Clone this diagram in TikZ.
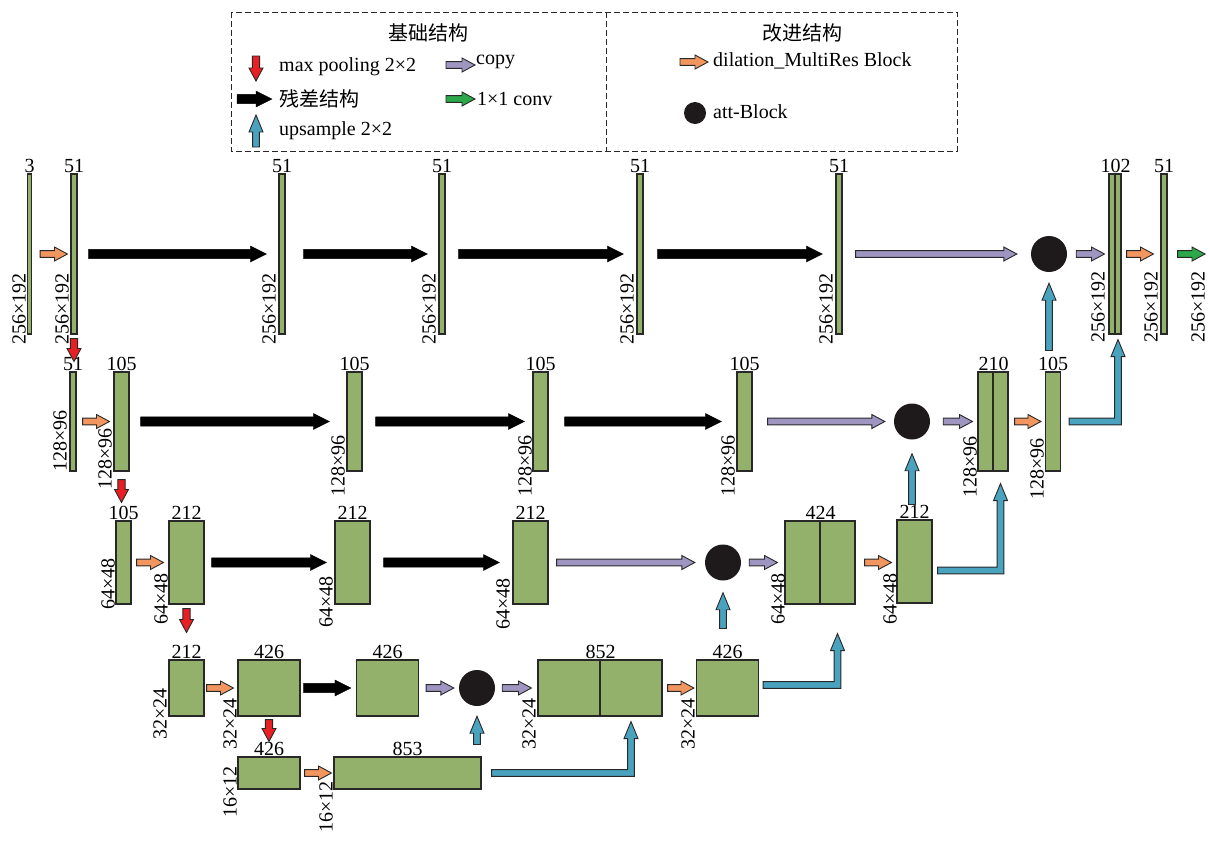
\documentclass[tikz,border=0pt]{standalone}
\usepackage{fontspec}
\setmainfont{Liberation Serif}
\newfontfamily\cjk{Noto Sans CJK SC}
\usetikzlibrary{calc}

\definecolor{blkgreen}{RGB}{148,177,108}
\definecolor{outln}{RGB}{40,40,40}
\definecolor{arrorange}{RGB}{242,150,95}
\definecolor{arrpurple}{RGB}{158,150,192}
\definecolor{arrteal}{RGB}{74,163,190}
\definecolor{arrgreen}{RGB}{44,168,74}
\definecolor{arrred}{RGB}{232,32,36}
\definecolor{attblack}{RGB}{30,26,27}

\tikzset{
  arr dims/.code args={#1/#2/#3}{\def\aw{#1}\def\ah{#2}\def\al{#3}},
  blk/.style 2 args={draw=outln, fill=blkgreen, line width=1.1pt, inner sep=0pt,
    minimum width=#1, minimum height=#2},
  chlbl/.style={inner sep=0.5pt},
  dimlbl/.style={rotate=90, anchor=south west, inner sep=0pt},
  legtxt/.style={anchor=west, inner sep=0pt},
  att/.style={circle, fill=attblack, inner sep=0pt, minimum size=36pt},
  resarr/.style={fill=black, draw=black, line width=0.4pt, arr dims=4.6pt/8pt/16pt},
  dilarr/.style={fill=arrorange, draw=outln, line width=0.9pt, arr dims=3.4pt/7pt/13pt},
  copyarr/.style={fill=arrpurple, draw=outln, line width=0.9pt, arr dims=3.4pt/7pt/13pt},
  convarr/.style={fill=arrgreen, draw=outln, line width=0.9pt, arr dims=3.4pt/7pt/13pt},
  poolarr/.style={fill=arrred, draw=outln, line width=0.9pt, arr dims=3.6pt/7pt/13pt},
  uparr/.style={fill=arrteal, draw=outln, line width=0.9pt, arr dims=3.4pt/7pt/17pt},
  legbox/.style={draw=outln, line width=1pt, dash pattern=on 6pt off 3pt}
}

% straight block arrow, #2 tail, #3 tip
\newcommand{\blockarrow}[3][]{%
  \begin{scope}[#1]
    \coordinate (ba-s) at (#2);
    \coordinate (ba-t) at (#3);
    \coordinate (ba-h) at ($(ba-t)!\al!(ba-s)$);
    \path[fill,draw] ($(ba-s)!\aw!90:(ba-t)$) -- ($(ba-h)!\aw!90:(ba-t)$) -- ($(ba-h)!\ah!90:(ba-t)$)
      -- (ba-t) -- ($(ba-h)!\ah!-90:(ba-t)$) -- ($(ba-h)!\aw!-90:(ba-t)$) -- ($(ba-s)!\aw!-90:(ba-t)$) -- cycle;
  \end{scope}}
% block arrow going right, then up to the tip
\newcommand{\elbowarrow}[3][]{%
  \begin{scope}[#1]
    \path[fill,draw] let \p1=(#2), \p2=(#3) in
      (\x1,\y1+\aw) -- (\x2-\aw,\y1+\aw) -- (\x2-\aw,\y2-\al) -- (\x2-\ah,\y2-\al) -- (\x2,\y2)
      -- (\x2+\ah,\y2-\al) -- (\x2+\aw,\y2-\al) -- (\x2+\aw,\y1-\aw) -- (\x1,\y1-\aw) -- cycle;
  \end{scope}}

\begin{document}
\begin{tikzpicture}[x=1pt,y=-1pt,font=\fontsize{20}{24}\selectfont]
  \useasboundingbox (0,0) rectangle (1210,841);

  % legend
  \draw[legbox] (231,12) rectangle (957,151);
  \draw[legbox] (606,12) -- (606,151);
  \node (lgt1) at (428,33) {\cjk 基础结构};
  \node (lgt2) at (802,33) {\cjk 改进结构};
  \coordinate (lgp1) at (256,56);  \coordinate (lgp2) at (256,81);
  \coordinate (lgr1) at (237,99);  \coordinate (lgr2) at (272,99);
  \coordinate (lgu1) at (256,147); \coordinate (lgu2) at (256,115);
  \coordinate (lgc1) at (446,65);  \coordinate (lgc2) at (475,65);
  \coordinate (lgv1) at (446,99);  \coordinate (lgv2) at (475,99);
  \coordinate (lgd1) at (680,62);  \coordinate (lgd2) at (708,62);
  \blockarrow[poolarr]{lgp1}{lgp2}
  \blockarrow[resarr]{lgr1}{lgr2}
  \blockarrow[uparr]{lgu1}{lgu2}
  \blockarrow[copyarr]{lgc1}{lgc2}
  \blockarrow[convarr]{lgv1}{lgv2}
  \blockarrow[dilarr]{lgd1}{lgd2}
  \node[att, minimum size=22pt] (lga) at (695,113) {};
  \node[legtxt] (lgpt) at (279,67) {max pooling 2×2};
  \node[legtxt] (lgrt) at (279,99) {\cjk 残差结构};
  \node[legtxt] (lgut) at (279,131) {upsample 2×2};
  \node[legtxt] (lgct) at (476,62) {copy};
  \node[legtxt] (lgvt) at (477,99) {1×1 conv};
  \node[legtxt] (lgdt) at (713,61) {dilation\_MultiRes Block};
  \node[legtxt] (lgat) at (713,112) {att-Block};

  % row 1: 256x192
  \node[blk={4pt}{160pt}, label={[chlbl]above:3}] (r1a) at (29.5,254) {};
  \node[blk={6pt}{160pt}, label={[chlbl]above:51}] (r1b) at (74,254) {};
  \node[blk={6pt}{160pt}, label={[chlbl]above:51}] (r1c) at (282,254) {};
  \node[blk={6pt}{160pt}, label={[chlbl]above:51}] (r1d) at (442,254) {};
  \node[blk={6pt}{160pt}, label={[chlbl]above:51}] (r1e) at (640,254) {};
  \node[blk={6pt}{160pt}, label={[chlbl]above:51}] (r1f) at (839,254) {};
  \node[att] (t1) at (1049,254) {};
  \node[blk={6pt}{160pt}] (r1gl) at (1112,254) {};
  \node[blk={6pt}{160pt}] (r1gr) at (1118,254) {};
  \node[chlbl, anchor=south] (l1g) at (r1gl.north east) {102};
  \node[blk={6pt}{160pt}, label={[chlbl]above:51}] (r1h) at (1164,254) {};
  \coordinate (out) at (1205,254);

  % row 2: 128x96
  \node[blk={6pt}{99pt}, label={[chlbl]above:51}] (r2a) at (73,421.5) {};
  \node[blk={15pt}{99pt}, label={[chlbl]above:105}] (r2b) at (121.5,421.5) {};
  \node[blk={15pt}{99pt}, label={[chlbl]above:105}] (r2c) at (354.5,421.5) {};
  \node[blk={15pt}{99pt}, label={[chlbl]above:105}] (r2d) at (540.5,421.5) {};
  \node[blk={15pt}{99pt}, label={[chlbl]above:105}] (r2e) at (744.5,421.5) {};
  \node[att] (t2) at (912,421.5) {};
  \node[blk={15pt}{99pt}] (r2fl) at (985.5,421.5) {};
  \node[blk={15pt}{99pt}] (r2fr) at (1000.5,421.5) {};
  \node[chlbl, anchor=south] (l2f) at (r2fl.north east) {210};
  \node[blk={15pt}{99pt}, label={[chlbl]above:105}] (r2g) at (1053,421.5) {};

  % row 3: 64x48
  \node[blk={15pt}{83pt}, label={[chlbl]above:105}] (r3a) at (123.5,562.5) {};
  \node[blk={35pt}{83pt}, label={[chlbl]above:212}] (r3b) at (186.5,562.5) {};
  \node[blk={35pt}{83pt}, label={[chlbl]above:212}] (r3c) at (352.5,562.5) {};
  \node[blk={35pt}{83pt}, label={[chlbl]above:212}] (r3d) at (530.5,562.5) {};
  \node[att] (t3) at (723,562.5) {};
  \node[blk={35pt}{83pt}] (r3el) at (802.5,562.5) {};
  \node[blk={35pt}{83pt}] (r3er) at (837.5,562.5) {};
  \node[chlbl, anchor=south] (l3e) at (r3el.north east) {424};
  \node[blk={35pt}{83pt}, label={[chlbl]above:212}] (r3f) at (914.5,561.5) {};

  % row 4: 32x24
  \node[blk={35pt}{56pt}, label={[chlbl]above:212}] (r4a) at (186.5,688) {};
  \node[blk={62pt}{56pt}, label={[chlbl]above:426}] (r4b) at (269,688) {};
  \node[blk={62pt}{56pt}, label={[chlbl]above:426}] (r4c) at (387.5,688) {};
  \node[att] (t4) at (477,688) {};
  \node[blk={62pt}{56pt}] (r4dl) at (569,688) {};
  \node[blk={62pt}{56pt}] (r4dr) at (631,688) {};
  \node[chlbl, anchor=south] (l4d) at (r4dl.north east) {852};
  \node[blk={62pt}{56pt}, label={[chlbl]above:426}] (r4e) at (727.5,688) {};

  % row 5: 16x12
  \node[blk={62pt}{32pt}, label={[chlbl]above:426}] (r5a) at (269,773) {};
  \node[blk={147pt}{32pt}, label={[chlbl]above:853}] (r5b) at (407.5,773) {};

  % sizes
  \foreach \x/\y [count=\i] in {26/345, 69/345, 276/345, 436/345, 634/345, 833/345, 1105/343, 1158/343, 1205/343}
    \node[dimlbl] (s1-\i) at (\x,\y) {256×192};
  \foreach \x/\y [count=\i] in {67/472, 112/490, 345/497, 532/497, 735/497, 977/498, 1044/500}
    \node[dimlbl] (s2-\i) at (\x,\y) {128×96};
  \foreach \x/\y [count=\i] in {115/610, 168/625, 333/628, 510/630, 785/625, 897/625}
    \node[dimlbl] (s3-\i) at (\x,\y) {64×48};
  \foreach \x/\y [count=\i] in {167/740, 237/750, 536/750, 695/750}
    \node[dimlbl] (s4-\i) at (\x,\y) {32×24};
  \foreach \x/\y [count=\i] in {237/818, 333/833}
    \node[dimlbl] (s5-\i) at (\x,\y) {16×12};

  % dilation_MultiRes
  \blockarrow[dilarr]{[xshift=8pt]r1a.east}{[xshift=-3pt]r1b.west}
  \blockarrow[dilarr]{[xshift=5pt]r1gr.east}{[xshift=-7pt]r1h.west}
  \blockarrow[dilarr]{[xshift=6pt]r2a.east}{[xshift=-4pt]r2b.west}
  \blockarrow[dilarr]{[xshift=6pt]r2fr.east}{[xshift=-4pt]r2g.west}
  \blockarrow[dilarr]{[xshift=5pt]r3a.east}{[xshift=-5pt]r3b.west}
  \blockarrow[dilarr]{[xshift=9pt]r3er.east}{[xshift=-5pt]r3er.east -| r3f.west}
  \blockarrow[dilarr]{[xshift=2pt]r4a.east}{[xshift=-4pt]r4b.west}
  \blockarrow[dilarr]{[xshift=5pt]r4dr.east}{[xshift=-2pt]r4e.west}
  \blockarrow[dilarr]{[xshift=4pt]r5a.east}{[xshift=-2pt]r5b.west}
  \blockarrow[convarr]{[xshift=10pt]r1h.east}{out}

  % residual
  \blockarrow[resarr]{[xshift=11pt]r1b.east}{[xshift=-12pt]r1c.west}
  \blockarrow[resarr]{[xshift=18pt]r1c.east}{[xshift=-11pt]r1d.west}
  \blockarrow[resarr]{[xshift=13pt]r1d.east}{[xshift=-13pt]r1e.west}
  \blockarrow[resarr]{[xshift=14pt]r1e.east}{[xshift=-13pt]r1f.west}
  \blockarrow[resarr]{[xshift=11pt]r2b.east}{[xshift=-17pt]r2c.west}
  \blockarrow[resarr]{[xshift=13pt]r2c.east}{[xshift=-8pt]r2d.west}
  \blockarrow[resarr]{[xshift=16pt]r2d.east}{[xshift=-15pt]r2e.west}
  \blockarrow[resarr]{[xshift=7pt]r3b.east}{[xshift=-8pt]r3c.west}
  \blockarrow[resarr]{[xshift=13pt]r3c.east}{[xshift=-13pt]r3d.west}
  \blockarrow[resarr]{[xshift=3pt]r4b.east}{[xshift=-5pt]r4c.west}

  % copy
  \blockarrow[copyarr]{[xshift=13pt]r1f.east}{[xshift=-14pt]t1.west}
  \blockarrow[copyarr]{[xshift=9pt]t1.east}{[xshift=-4pt]r1gl.west}
  \blockarrow[copyarr]{[xshift=15pt]r2e.east}{[xshift=-9pt]t2.west}
  \blockarrow[copyarr]{[xshift=13pt]t2.east}{[xshift=-5pt]r2fl.west}
  \blockarrow[copyarr]{[xshift=8pt]r3d.east}{[xshift=-10pt]t3.west}
  \blockarrow[copyarr]{[xshift=8pt]t3.east}{[xshift=-7pt]r3el.west}
  \blockarrow[copyarr]{[xshift=7pt]r4c.east}{[xshift=-5pt]t4.west}
  \blockarrow[copyarr]{[xshift=7pt]t4.east}{[xshift=-6pt]r4dl.west}

  % max pooling
  \blockarrow[poolarr]{[yshift=-4pt]r1b.south}{$(r1b.south |- r2a.north)+(0pt,10pt)$}
  \blockarrow[poolarr]{[yshift=-8pt]r2b.south}{$(r2b.south |- r3a.north)+(0pt,18pt)$}
  \blockarrow[poolarr]{[yshift=-4pt]r3b.south}{$(r3b.south |- r4a.north)+(0pt,27pt)$}
  \blockarrow[poolarr]{[yshift=-3pt]r4b.south}{$(r4b.south |- r5a.north)+(0pt,15pt)$}

  % upsample
  \blockarrow[uparr]{$(t1.south |- r2g.north)+(0pt,21pt)$}{[yshift=-11pt]t1.south}
  \blockarrow[uparr]{$(t2.south |- r3f.north)+(0pt,15pt)$}{[yshift=-14pt]t2.south}
  \blockarrow[uparr]{$(t3.south |- r4e.north)+(0pt,31pt)$}{[yshift=-12pt]t3.south}
  \blockarrow[uparr]{$(t4.south |- r5b.north)+(0pt,12pt)$}{[yshift=-10pt]t4.south}
  \elbowarrow[uparr]{[xshift=8pt]r2g.east}{[yshift=-5pt]r1gr.south}
  \elbowarrow[uparr]{[xshift=5pt,yshift=-9pt]r3f.east}{[yshift=-12pt]r2fr.south}
  \elbowarrow[uparr]{[xshift=4pt,yshift=3pt]r4e.east}{[yshift=-29pt]r3er.south}
  \elbowarrow[uparr]{[xshift=10pt]r5b.east}{[yshift=-5pt]r4dr.south}
\end{tikzpicture}
\end{document}
